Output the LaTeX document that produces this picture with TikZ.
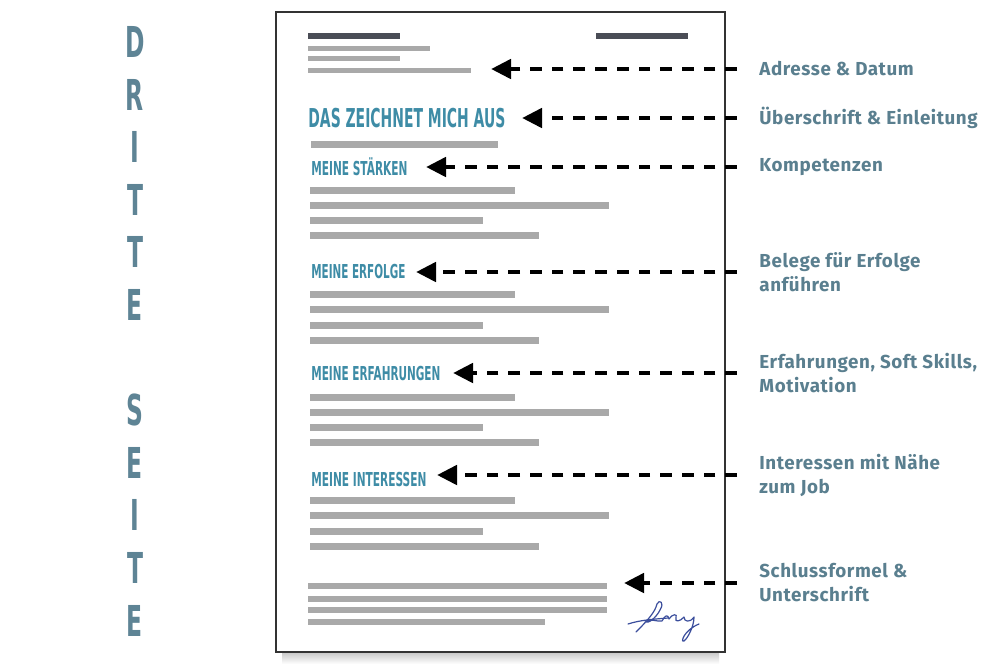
\documentclass[tikz,border=0pt]{standalone}
\usepackage{fontspec}
\usepackage{graphicx}
\usetikzlibrary{arrows.meta}
\newfontfamily\headfont{DejaVu Sans}
\newfontfamily\lblfont{Fira Sans}[LetterSpace=3]
\definecolor{tealhead}{HTML}{3E8CA6}
\definecolor{slate}{HTML}{5E8495}
\definecolor{lblcol}{HTML}{5A7F8F}
\definecolor{barcol}{HTML}{A9A9A9}
\definecolor{darkbar}{HTML}{4A4D56}
\definecolor{sigcol}{HTML}{3B4E9C}
\newcommand{\condw}[2]{\resizebox{#1}{\height}{#2}}
\begin{document}
\begin{tikzpicture}[x=0.5pt,y=-0.5pt,
  lbl/.style={anchor=west,inner sep=0pt,align=left,text=lblcol,
    font=\lblfont\bfseries\fontsize{9.4pt}{12pt}\selectfont},
  head/.style={anchor=base west,inner sep=0pt,text=tealhead,
    font=\headfont\bfseries\fontsize{9.6pt}{10pt}\selectfont},
  bighead/.style={head,font=\headfont\bfseries\fontsize{13pt}{14pt}\selectfont},
  vlet/.style={inner sep=0pt,text=slate,
    font=\headfont\bfseries\fontsize{21.3pt}{22pt}\selectfont},
  arr/.style={line width=2.35pt,dash pattern=on 5.85pt off 5pt,
    -{Triangle[length=10pt,width=9.5pt]},shorten <=11pt},
  sig/.style={draw=sigcol,line width=0.6pt,line cap=round,line join=round},
]
\useasboundingbox (0,0) rectangle (1000,666);
\fill[white] (0,0) rectangle (1000,666);

% vertical title
\foreach \ch [count=\i from 0] in {D,R,I,T,T,E,{},S,E,I,T,E}{
  \node[vlet] (v\i) at (135,{42+52.6*\i}) {\scalebox{0.55}[1]{\ch}};
}

% page shadow and page
\shade[top color=black!22,bottom color=white] (282,652) rectangle (719,664);
\draw[line width=0.75pt,draw=black!80,fill=white] (276,12) rectangle (725,652);

% header
\fill[darkbar] (308,33) rectangle (400,39);
\fill[darkbar] (596,33) rectangle (688,39);
\fill[barcol] (308,45.5) rectangle (430,50.5);
\fill[barcol] (308,56) rectangle (400,61);
\fill[barcol] (308,67.5) rectangle (471,72.5);

% headings
\node[bighead] (h0) at (308,127) {\condw{98.5pt}{DAS ZEICHNET MICH AUS}};
\fill[barcol] (311,141) rectangle (498,147.5);
\node[head] (h1) at (311,175) {\condw{48pt}{MEINE STÄRKEN}};
\node[head] (h2) at (311,278) {\condw{47pt}{MEINE ERFOLGE}};
\node[head] (h3) at (311,380) {\condw{64.5pt}{MEINE ERFAHRUNGEN}};
\node[head] (h4) at (311,486) {\condw{57.5pt}{MEINE INTERESSEN}};

% body bars
\foreach \b in {190,294.5,397,500.5}{
  \fill[barcol] (310,\b-3.5) rectangle (515,\b+3.5);
  \fill[barcol] (310,\b+11.8) rectangle (609,\b+18.8);
  \fill[barcol] (310,\b+27.1) rectangle (483,\b+34.1);
  \fill[barcol] (310,\b+42.3) rectangle (539,\b+49.3);
}

% closing
\foreach \b in {586,598.5,610,622}{
  \fill[barcol] (308,\b-3) rectangle (607,\b+3);
}
\fill[white] (545,619) rectangle (608,626);

% signature
\draw[sig] (628,624) .. controls (640,620) and (655,619) .. (668,618);
\draw[sig] (636,632) .. controls (648,620) and (655,612) .. (657,604)
  .. controls (659,599) and (665,602) .. (660,610)
  .. controls (656,618) and (648,624) .. (645,622)
  .. controls (650,618) and (658,622) .. (662,621)
  .. controls (665,615) and (668,614) .. (669,619)
  .. controls (672,614) and (678,613) .. (676,618)
  .. controls (674,622) and (680,622) .. (684,617)
  .. controls (684,622) and (690,623) .. (694,617)
  .. controls (694,626) and (688,638) .. (684,641)
  .. controls (680,643) and (684,630) .. (699,624);

% labels
\node[lbl] (l1) at (759,69) {Adresse \& Datum};
\node[lbl] (l2) at (759,118) {Überschrift \& Einleitung};
\node[lbl] (l3) at (759,167) {Kompetenzen};
\node[lbl] (l4) at (759,272) {Belege für Erfolge\\anführen};
\node[lbl] (l5) at (759,373) {Erfahrungen, Soft Skills,\\Motivation};
\node[lbl] (l6) at (759,475) {Interessen mit Nähe\\zum Job};
\node[lbl] (l7) at (759,583) {Schlussformel \&\\Unterschrift};

% targets
\coordinate (t1) at (491,69);
\coordinate (t2) at (522,118);
\coordinate (t3) at (426,167);
\coordinate (t4) at (416,272);
\coordinate (t5) at (453,373);
\coordinate (t6) at (437,475);
\coordinate (t7) at (624,583);

\foreach \k in {1,...,7}{
  \draw[arr] (l\k.west) -- (t\k);
}
\end{tikzpicture}
\end{document}
